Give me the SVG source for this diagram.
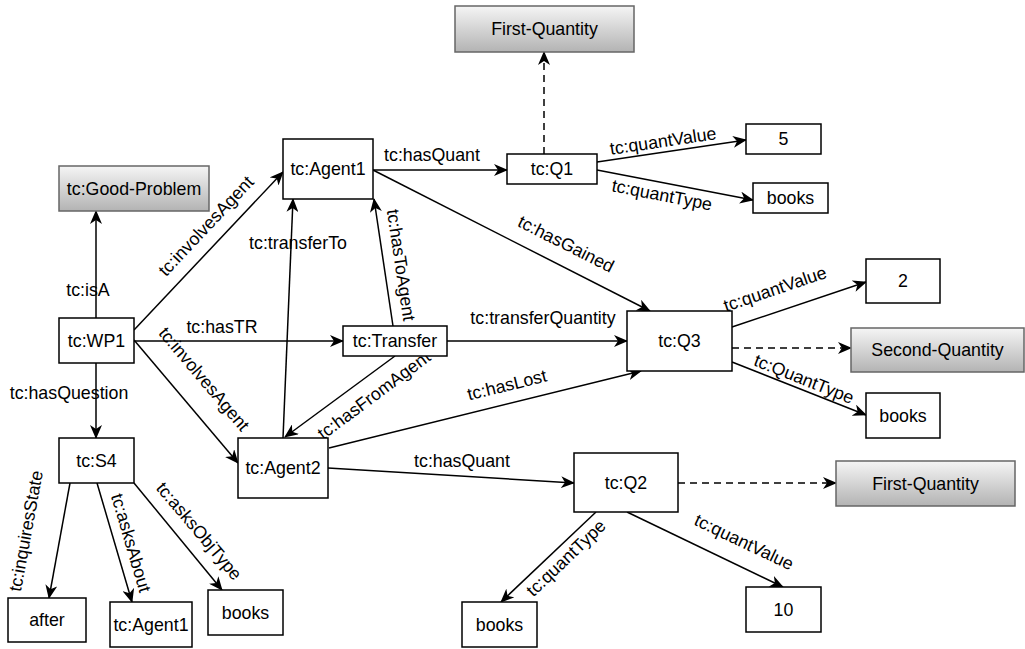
<svg xmlns="http://www.w3.org/2000/svg" width="1025" height="649" viewBox="0 0 1025 649">
<style>
  .n rect { fill: #ffffff; stroke: #000000; stroke-width: 1.5; }
  .g rect { fill: url(#grad); stroke: #666666; stroke-width: 1.5; }
  text { font-family: "Liberation Sans", Arial, sans-serif; font-size: 17.8px; fill: #000000; text-anchor: middle; dominant-baseline: central; }
  .e line { stroke: #000000; stroke-width: 1.5; fill: none; marker-end: url(#arr); }
  .e line.d { stroke-dasharray: 7 5; }
</style>
<defs>
  <linearGradient id="grad" x1="0" y1="0" x2="0" y2="1">
    <stop offset="0" stop-color="#f5f5f5"/>
    <stop offset="1" stop-color="#b3b3b3"/>
  </linearGradient>
  <marker id="arr" markerUnits="userSpaceOnUse" markerWidth="14" markerHeight="12" viewBox="0 0 14 12" refX="13" refY="6" orient="auto">
    <path d="M0,0 L14,6 L0,12 L4,6 Z" fill="#000000"/>
  </marker>
</defs>
<rect width="1025" height="649" fill="#ffffff"/>

<g id="connectors" class="e">
  <line x1="96" y1="318" x2="96" y2="211"/>
  <line x1="134" y1="330" x2="283" y2="172"/>
  <line x1="134" y1="341" x2="343" y2="341"/>
  <line x1="134" y1="340" x2="238" y2="463"/>
  <line x1="96" y1="363" x2="96" y2="438"/>
  <line x1="283" y1="438" x2="293" y2="199"/>
  <line x1="393" y1="326" x2="374" y2="199"/>
  <line x1="395" y1="356" x2="285" y2="437"/>
  <line x1="373" y1="170" x2="507" y2="170"/>
  <line x1="373" y1="170" x2="650" y2="311"/>
  <line x1="447" y1="341" x2="627" y2="341"/>
  <line x1="329" y1="448" x2="641" y2="371"/>
  <line x1="328" y1="468" x2="574" y2="483"/>
  <line class="d" x1="678" y1="483" x2="836" y2="483"/>
  <line x1="596" y1="512" x2="501" y2="602"/>
  <line x1="627" y1="512" x2="783" y2="587"/>
  <line class="d" x1="544" y1="154" x2="544" y2="52"/>
  <line x1="597" y1="162" x2="746" y2="140"/>
  <line x1="597" y1="170" x2="753" y2="200"/>
  <line x1="732" y1="327" x2="866" y2="282"/>
  <line class="d" x1="732" y1="348" x2="851" y2="348"/>
  <line x1="732" y1="362" x2="866" y2="415"/>
  <line x1="70" y1="483" x2="49" y2="598"/>
  <line x1="97" y1="483" x2="132" y2="602"/>
  <line x1="134" y1="483" x2="222" y2="590"/>
</g>

<g id="edge-labels">
  <text x="88" y="290">tc:isA</text>
  <text transform="translate(206,226) rotate(-46.7)">tc:involvesAgent</text>
  <text x="222" y="327">tc:hasTR</text>
  <text transform="translate(204,379) rotate(49.8)">tc:involvesAgent</text>
  <text x="69" y="393">tc:hasQuestion</text>
  <text x="298" y="243">tc:transferTo</text>
  <text transform="translate(401,265) rotate(81.5)">tc:hasToAgent</text>
  <text transform="translate(374,395) rotate(-36.7)">tc:hasFromAgent</text>
  <text x="432" y="155">tc:hasQuant</text>
  <text transform="translate(566,244) rotate(26.8)">tc:hasGained</text>
  <text x="543" y="318">tc:transferQuantity</text>
  <text transform="translate(507,385) rotate(-13.8)">tc:hasLost</text>
  <text x="462" y="461">tc:hasQuant</text>
  <text transform="translate(566,558) rotate(-43.7)">tc:quantType</text>
  <text transform="translate(744,542) rotate(25.5)">tc:quantValue</text>
  <text transform="translate(663,141) rotate(-8.5)">tc:quantValue</text>
  <text transform="translate(662,195) rotate(11)">tc:quantType</text>
  <text transform="translate(775,289) rotate(-18.7)">tc:quantValue</text>
  <text transform="translate(804,379) rotate(21.6)">tc:QuantType</text>
  <text transform="translate(26,531) rotate(-79.6)">tc:inquiresState</text>
  <text transform="translate(131,543) rotate(73.6)">tc:asksAbout</text>
  <text transform="translate(199,531) rotate(49.8)">tc:asksObjType</text>
</g>

<g id="fq1" class="g"><rect x="455" y="6" width="179" height="46"/><text x="544.5" y="29">First-Quantity</text></g>
<g id="q1" class="n"><rect x="507" y="154" width="90" height="30"/><text x="552" y="169">tc:Q1</text></g>
<g id="v5" class="n"><rect x="746" y="124" width="75" height="30"/><text x="783.5" y="139">5</text></g>
<g id="books1" class="n"><rect x="753" y="183" width="75" height="30"/><text x="790.5" y="198">books</text></g>
<g id="goodproblem" class="g"><rect x="59" y="166" width="150" height="45"/><text x="134" y="188.5">tc:Good-Problem</text></g>
<g id="agent1" class="n"><rect x="283" y="139" width="90" height="60"/><text x="328" y="169">tc:Agent1</text></g>
<g id="wp1" class="n"><rect x="59" y="318" width="75" height="45"/><text x="96.5" y="340.5">tc:WP1</text></g>
<g id="transfer" class="n"><rect x="343" y="326" width="104" height="30"/><text x="395" y="341">tc:Transfer</text></g>
<g id="q3" class="n"><rect x="627" y="311" width="105" height="60"/><text x="679.5" y="341">tc:Q3</text></g>
<g id="v2" class="n"><rect x="866" y="259" width="74" height="44"/><text x="903" y="281">2</text></g>
<g id="secondquantity" class="g"><rect x="851" y="328" width="173" height="44"/><text x="937.5" y="350">Second-Quantity</text></g>
<g id="books2" class="n"><rect x="866" y="393" width="74" height="45"/><text x="903" y="415.5">books</text></g>
<g id="s4" class="n"><rect x="59" y="438" width="75" height="45"/><text x="96.5" y="460.5">tc:S4</text></g>
<g id="agent2" class="n"><rect x="238" y="438" width="90" height="60"/><text x="283" y="468">tc:Agent2</text></g>
<g id="q2" class="n"><rect x="574" y="453" width="104" height="59"/><text x="626" y="482.5">tc:Q2</text></g>
<g id="fq2" class="g"><rect x="836" y="461" width="179" height="45"/><text x="925.5" y="483.5">First-Quantity</text></g>
<g id="after" class="n"><rect x="8" y="598" width="78" height="44"/><text x="47" y="620">after</text></g>
<g id="agent1b" class="n"><rect x="110" y="602" width="82" height="45"/><text x="151" y="624.5">tc:Agent1</text></g>
<g id="books3" class="n"><rect x="208" y="590" width="75" height="45"/><text x="245.5" y="612.5">books</text></g>
<g id="books4" class="n"><rect x="462" y="602" width="75" height="45"/><text x="499.5" y="624.5">books</text></g>
<g id="v10" class="n"><rect x="746" y="587" width="75" height="45"/><text x="783.5" y="609.5">10</text></g>
</svg>
